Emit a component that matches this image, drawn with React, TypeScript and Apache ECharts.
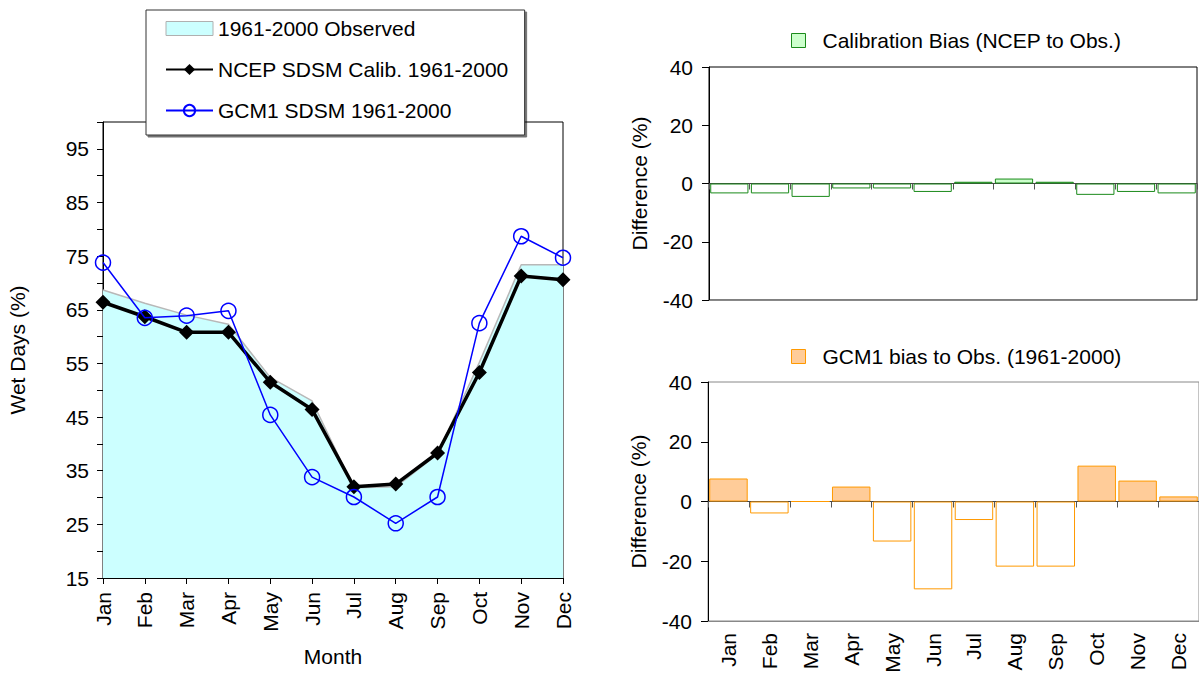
import { useEffect, useRef } from "react";
import * as echarts from "echarts";

// Monthly wet-day statistics, 1961-2000
const months = ["Jan", "Feb", "Mar", "Apr", "May", "Jun", "Jul", "Aug", "Sep", "Oct", "Nov", "Dec"];
const observed = [68.7, 66.2, 64.0, 62.3, 52.4, 48.0, 31.8, 32.0, 38.1, 55.2, 73.4, 73.4];
const ncepCalib = [66.4, 63.7, 60.8, 60.8, 51.5, 46.4, 32.0, 32.5, 38.3, 53.3, 71.3, 70.6];
const gcm1 = [73.8, 63.5, 63.9, 64.8, 45.4, 33.8, 30.1, 25.2, 30.1, 62.5, 78.7, 74.7];

// Relative biases (%)
const calibBias = [-3.4, -3.4, -4.6, -1.7, -1.7, -2.9, 0.6, 1.7, 0.6, -3.9, -2.9, -3.4];
const gcmBias = [7.7, -4.0, 0, 5.0, -13.4, -29.4, -6.2, -21.8, -21.8, 12.0, 7.0, 1.7];

// Left y-axis tick labels
const wetDayLabels = [15, 25, 35, 45, 55, 65, 75, 85, 95];

const FONT = "Liberation Sans";
const FS = 21;

const OBS_NAME = "1961-2000 Observed";
const NCEP_NAME = "NCEP SDSM Calib. 1961-2000";
const GCM_NAME = "GCM1 SDSM 1961-2000";
const CAL_NAME = "Calibration Bias (NCEP to Obs.)";
const GBIAS_NAME = "GCM1 bias to Obs. (1961-2000)";

const GREEN_FILL = "#CCFFCC";
const GREEN_EDGE = "#1a8a1a";
const ORANGE_FILL = "#FFCC99";
const ORANGE_EDGE = "#FF9900";

function biasBars(values: number[], fill: string, edge: string) {
  return values.map((v) => ({
    value: v,
    itemStyle: { color: v > 0 ? fill : "#ffffff", borderColor: edge, borderWidth: 1 },
  }));
}

function diffYAxis(gridIndex: number) {
  return {
    type: "value",
    gridIndex,
    min: -40,
    max: 40,
    interval: 20,
    name: "Difference (%)",
    nameLocation: "middle",
    nameGap: 59,
    nameTextStyle: { fontFamily: FONT, fontSize: FS, color: "#000" },
    axisLine: { show: true, lineStyle: { color: "#000", width: 1 } },
    axisTick: { show: true, length: 7, lineStyle: { color: "#000" } },
    axisLabel: { fontFamily: FONT, fontSize: FS, color: "#000", margin: 16 },
    splitLine: { show: false },
  };
}

export default function App() {
  const ref = useRef<HTMLDivElement>(null);

  useEffect(() => {
    if (!ref.current) return;
    const chart = echarts.init(ref.current, undefined, { renderer: "svg" });

    const option = {
      animation: false,
      backgroundColor: "#ffffff",
      textStyle: { fontFamily: FONT, color: "#000" },
      grid: [
        { left: 103, top: 122, width: 460, height: 456, show: true, borderColor: "#000", borderWidth: 1, backgroundColor: "transparent" },
        { left: 709, top: 67, width: 488, height: 233, show: true, borderColor: "#000", borderWidth: 1, backgroundColor: "transparent" },
        { left: 708, top: 382, width: 491, height: 239, show: true, borderColor: "#888", borderWidth: 1, backgroundColor: "transparent" },
      ],
      legend: [
        {
          left: 146,
          top: 10,
          orient: "vertical",
          selectedMode: false,
          backgroundColor: "#ffffff",
          borderColor: "#333",
          borderWidth: 1,
          shadowColor: "rgba(0,0,0,0.55)",
          shadowOffsetX: 2,
          shadowOffsetY: 2,
          shadowBlur: 0,
          padding: [8, 16, 14, 19],
          itemGap: 20,
          itemWidth: 47,
          itemHeight: 14,
          textStyle: { fontFamily: FONT, fontSize: FS, color: "#000" },
          data: [
            { name: OBS_NAME, icon: "rect", itemStyle: { color: "#CCFFFF", borderColor: "#b0b0b0", borderWidth: 1 } },
            { name: NCEP_NAME },
            { name: GCM_NAME },
          ],
        },
        {
          left: 791,
          top: 30,
          selectedMode: false,
          padding: 0,
          itemWidth: 14,
          itemHeight: 14,
          textStyle: { fontFamily: FONT, fontSize: FS, color: "#000", padding: [0, 0, 0, 12] },
          data: [{ name: CAL_NAME, icon: "rect", itemStyle: { color: GREEN_FILL, borderColor: GREEN_EDGE, borderWidth: 1 } }],
        },
        {
          left: 791,
          top: 346,
          selectedMode: false,
          padding: 0,
          itemWidth: 14,
          itemHeight: 14,
          textStyle: { fontFamily: FONT, fontSize: FS, color: "#000", padding: [0, 0, 0, 12] },
          data: [{ name: GBIAS_NAME, icon: "rect", itemStyle: { color: ORANGE_FILL, borderColor: ORANGE_EDGE, borderWidth: 1 } }],
        },
      ],
      xAxis: [
        // 0: months for the wet-day chart
        {
          type: "category",
          gridIndex: 0,
          data: months,
          boundaryGap: false,
          name: "Month",
          nameLocation: "middle",
          nameGap: 68,
          nameTextStyle: { fontFamily: FONT, fontSize: FS, color: "#000" },
          axisLine: { onZero: false, lineStyle: { color: "#000", width: 1 } },
          axisTick: { show: true, length: 6, alignWithLabel: true, lineStyle: { color: "#000" } },
          axisLabel: { rotate: 90, fontFamily: FONT, fontSize: FS, color: "#000", margin: 14, interval: 0 },
          splitLine: { show: false },
        },
        // 1: calibration bias, bottom frame line
        {
          type: "category",
          gridIndex: 1,
          data: months,
          position: "bottom",
          axisLine: { onZero: false, lineStyle: { color: "#888", width: 1 } },
          axisTick: { show: false },
          axisLabel: { show: false },
        },
        // 2: GCM bias, month labels along the bottom
        {
          type: "category",
          gridIndex: 2,
          data: months,
          position: "bottom",
          axisLine: { onZero: false, lineStyle: { color: "#888", width: 1 } },
          axisTick: { show: false },
          axisLabel: { rotate: 90, fontFamily: FONT, fontSize: FS, color: "#000", margin: 12, interval: 0 },
        },
        // 3: calibration bias, zero line with ticks
        {
          type: "category",
          gridIndex: 1,
          data: months,
          position: "top",
          axisLine: { onZero: true, lineStyle: { color: "#444", width: 1 } },
          axisTick: { show: true, inside: true, length: 6, interval: 0, lineStyle: { color: "#555" } },
          axisLabel: { show: false },
        },
        // 4: GCM bias, zero line with ticks
        {
          type: "category",
          gridIndex: 2,
          data: months,
          position: "top",
          axisLine: { onZero: true, lineStyle: { color: "#444", width: 1 } },
          axisTick: { show: true, inside: true, length: 6, interval: 0, lineStyle: { color: "#555" } },
          axisLabel: { show: false },
        },
      ],
      yAxis: [
        {
          type: "value",
          gridIndex: 0,
          min: 15,
          max: 100,
          interval: 5,
          name: "Wet Days (%)",
          nameLocation: "middle",
          nameGap: 75,
          nameTextStyle: { fontFamily: FONT, fontSize: FS, color: "#000" },
          axisLine: { show: true, lineStyle: { color: "#000", width: 1 } },
          axisTick: { show: true, length: 6, lineStyle: { color: "#000" } },
          axisLabel: {
            fontFamily: FONT,
            fontSize: FS,
            color: "#000",
            margin: 14,
            formatter: (v: number) => (wetDayLabels.includes(v) ? String(v) : ""),
          },
          splitLine: { show: false },
        },
        diffYAxis(1),
        diffYAxis(2),
      ],
      series: [
        {
          name: OBS_NAME,
          type: "line",
          xAxisIndex: 0,
          yAxisIndex: 0,
          data: observed,
          symbol: "none",
          lineStyle: { color: "#b8b8b8", width: 1.5 },
          itemStyle: { color: "#CCFFFF" },
          areaStyle: { color: "#CCFFFF", opacity: 1 },
          z: 1,
        },
        {
          name: NCEP_NAME,
          type: "line",
          xAxisIndex: 0,
          yAxisIndex: 0,
          data: ncepCalib,
          symbol: "diamond",
          symbolSize: 15,
          lineStyle: { color: "#000", width: 3.5 },
          itemStyle: { color: "#000" },
          z: 2,
        },
        {
          name: GCM_NAME,
          type: "line",
          xAxisIndex: 0,
          yAxisIndex: 0,
          data: gcm1,
          symbol: "circle",
          symbolSize: 15,
          lineStyle: { color: "#0000FF", width: 1.5 },
          itemStyle: { color: "rgba(0,0,0,0)", borderColor: "#0000FF", borderWidth: 1.5 },
          z: 3,
        },
        {
          name: CAL_NAME,
          type: "bar",
          xAxisIndex: 1,
          yAxisIndex: 1,
          barCategoryGap: "6%",
          itemStyle: { color: GREEN_FILL, borderColor: GREEN_EDGE, borderWidth: 1 },
          data: biasBars(calibBias, GREEN_FILL, GREEN_EDGE),
        },
        {
          name: GBIAS_NAME,
          type: "bar",
          xAxisIndex: 2,
          yAxisIndex: 2,
          barCategoryGap: "6%",
          itemStyle: { color: ORANGE_FILL, borderColor: ORANGE_EDGE, borderWidth: 1 },
          data: biasBars(gcmBias, ORANGE_FILL, ORANGE_EDGE),
        },
      ],
    };

    chart.setOption(option as any);
    return () => chart.dispose();
  }, []);

  return (
    <div
      ref={ref}
      style={{ position: "fixed", left: 0, top: 0, width: 1199, height: 676, background: "#fff" }}
    />
  );
}
